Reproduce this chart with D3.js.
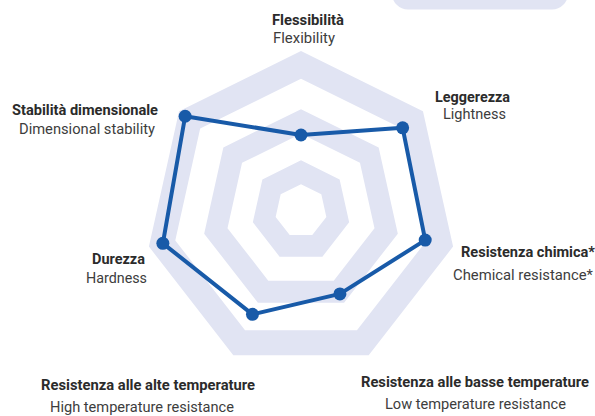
<html>
<head>
<script src="https://d3js.org/d3.v7.min.js"></script>
<style>
  body { margin: 0; background: #fff; }
  .lbl-it { font-family: Roboto, sans-serif; font-weight: 700; font-size: 14.5px; fill: #2b2b2b; }
  .lbl-en { font-family: Roboto, sans-serif; font-weight: 400; font-size: 14.5px; fill: #3d3d3d; }
</style>
</head>
<body>
<script>
// data
var axesIt = ["Flessibilità", "Leggerezza", "Resistenza chimica*", "Resistenza alle basse temperature",
              "Resistenza alle alte temperature", "Durezza", "Stabilità dimensionale"];
var axesEn = ["Flexibility", "Lightness", "Chemical resistance*", "Low temperature resistance",
              "High temperature resistance", "Hardness", "Dimensional stability"];
var values = [2.85, 5.0, 4.9, 3.45, 4.3, 5.45, 5.7];
var bands = [[1, 1.9], [2.9, 3.82], [4.96, 6]];

// layout (label centre x, baseline of first line, widths of both lines)
var labelLayout = [
  {x: 308, y: 25, w1: 72, dx2: -4, w2: 62, gap: 18},
  {x: 472.5, y: 102, w1: 75, dx2: 2, w2: 63, gap: 16.5},
  {x: 528, y: 257, w1: 134, dx2: -5, w2: 140, gap: 23},
  {x: 475, y: 387, w1: 228, dx2: 0.5, w2: 181, gap: 21.5},
  {x: 148, y: 389.5, w1: 214, dx2: -6, w2: 184, gap: 22},
  {x: 118.5, y: 264, w1: 53, dx2: -2, w2: 61, gap: 19},
  {x: 85, y: 115, w1: 146, dx2: 2, w2: 136, gap: 19}
];

var W = 595, H = 416, cx = 301, cy = 211, sx = 0.975;
var svg = d3.select("body").append("svg").attr("width", W).attr("height", H);

var r = d3.scaleLinear().domain([0, 6]).range([0, 160]);
var n = axesIt.length;
var angle = d3.scaleLinear().domain([0, n]).range([0, 2 * Math.PI]);

function pt(i, v) {
  var a = angle(i), rr = r(v);
  return [cx + sx * rr * Math.sin(a), cy - rr * Math.cos(a)];
}
function ring(v) {
  return d3.range(n).map(function (i) { return pt(i, v); });
}
function ringPath(v) {
  return "M" + ring(v).map(function (p) { return p.join(","); }).join("L") + "Z";
}

// top-right decoration
svg.append("rect").attr("x", 392).attr("y", -30).attr("width", 176).attr("height", 39.5)
  .attr("rx", 16).attr("fill", "#e1e4f3");

// background bands
svg.selectAll(".band").data(bands).enter().append("path")
  .attr("class", "band")
  .attr("fill", "#e1e4f3")
  .attr("fill-rule", "evenodd")
  .attr("d", function (d) { return ringPath(d[1]) + ringPath(d[0]); });

// series line
var line = d3.line().curve(d3.curveLinearClosed);
svg.append("path")
  .attr("d", line(values.map(function (v, i) { return pt(i, v); })))
  .attr("fill", "none")
  .attr("stroke", "#185aa8")
  .attr("stroke-width", 4)
  .attr("stroke-linejoin", "round");

svg.selectAll(".dot").data(values).enter().append("circle")
  .attr("class", "dot")
  .attr("cx", function (d, i) { return pt(i, d)[0]; })
  .attr("cy", function (d, i) { return pt(i, d)[1]; })
  .attr("r", 6.5)
  .attr("fill", "#185aa8");

// labels
var lab = svg.selectAll(".lab").data(axesIt).enter().append("g").attr("class", "lab");
lab.append("text").attr("class", "lbl-it")
  .attr("x", function (d, i) { return labelLayout[i].x; })
  .attr("y", function (d, i) { return labelLayout[i].y; })
  .attr("text-anchor", "middle")
  .attr("textLength", function (d, i) { return labelLayout[i].w1; })
  .attr("lengthAdjust", "spacingAndGlyphs")
  .text(function (d) { return d; });
lab.append("text").attr("class", "lbl-en")
  .attr("x", function (d, i) { return labelLayout[i].x + labelLayout[i].dx2; })
  .attr("y", function (d, i) { return labelLayout[i].y + labelLayout[i].gap; })
  .attr("text-anchor", "middle")
  .attr("textLength", function (d, i) { return labelLayout[i].w2; })
  .attr("lengthAdjust", "spacingAndGlyphs")
  .text(function (d, i) { return axesEn[i]; });
</script>
</body>
</html>
